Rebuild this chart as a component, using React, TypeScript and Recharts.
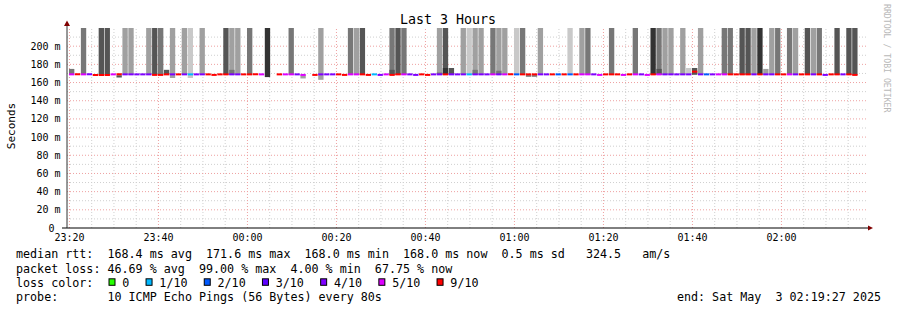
import {
  Bar,
  Cell,
  ComposedChart,
  ReferenceDot,
  ReferenceLine,
  XAxis,
  YAxis,
} from "recharts";

const MONO = "'DejaVu Sans Mono', monospace";

// time axis: seconds after 23:00 on May 2
const T_START = 1167; // 23:19:27
const T_END = 11967; // 02:19:27
const FIRST_STEP = 1234; // centre of the first 80s step
const STEP = 80;

const xTicks = [1200, 2400, 3600, 4800, 6000, 7200, 8400, 9600, 10800];
const xMinorTicks = [
  1500, 1800, 2100, 2700, 3000, 3300, 3900, 4200, 4500, 5100, 5400, 5700,
  6300, 6600, 6900, 7500, 7800, 8100, 8700, 9000, 9300, 9900, 10200, 10500,
  11100, 11400, 11700,
];
const yTicks = [0, 20, 40, 60, 80, 100, 120, 140, 160, 180, 200];
const yMinorTicks = [10, 30, 50, 70, 90, 110, 130, 150, 170, 190, 210];

// median rtt per step (ms), null = no answer
const median = [
  168.6, 168.6, 168.6, 168.6, 168.0, 168.0, 168.0, 168.6, 168.6, 168.6,
  168.6, 168.6, 168.6, 168.6, 168.0, 168.0, 168.6, 168.6, 168.6, 168.6,
  168.6, 168.6, 168.6, 168.6, 168.0, 168.6, 168.6, 168.6, 168.6, 168.6,
  168.6, 168.6, 168.6, null, null, 168.6, 168.6, 168.6, 168.6, 168.0,
  null, 168.0, 168.6, 168.6, 168.6, 168.6, 168.0, 168.6, 168.6, 168.6,
  168.0, 168.6, 168.0, 168.6, 168.0, 168.6, 168.6, 168.6, 168.0, 168.6,
  168.0, 168.6, 168.6, 168.6, 168.6, 168.6, 168.6, 168.6, 168.6, 168.6,
  168.6, 168.6, 168.6, 168.6, 168.6, 168.6, 168.6, 168.6, 168.6, 168.6,
  168.6, 168.6, 168.6, 168.6, 168.6, 168.6, 168.6, 168.6, 168.6, 168.0,
  168.6, 168.6, 168.6, 168.0, 168.6, 168.6, 168.6, 168.0, 168.6, 168.6,
  168.6, 168.6, 168.6, 168.6, 168.6, 171.6, 168.6, 168.6, 168.6, 168.6,
  168.6, 168.6, 168.6, 168.6, 168.6, 168.6, 168.6, 168.6, 168.6, 168.6,
  168.6, 168.6, 168.6, 168.6, 168.6, 168.6, 168.6, 168.0, 168.6, 168.6,
  168.6, 168.6, 168.0,
];

// lost pings out of 10 per step
const loss = [
  5, 7, 5, 4, 7, 7, 7, 5, 7, 4,
  4, 4, 4, 4, 7, 7, 7, 4, 7, 4,
  1, 4, 4, 7, 7, 7, 7, 4, 4, 7,
  7, 7, 5, 10, 10, 7, 5, 5, 4, 5,
  10, 7, 4, 4, 4, 7, 7, 5, 5, 7,
  7, 1, 4, 5, 7, 7, 5, 4, 4, 7,
  7, 4, 4, 7, 4, 4, 4, 1, 4, 4,
  4, 5, 4, 5, 7, 2, 7, 7, 7, 4,
  4, 7, 2, 7, 2, 7, 5, 5, 4, 5,
  7, 7, 7, 5, 7, 5, 4, 5, 7, 5,
  4, 4, 4, 4, 4, 7, 4, 2, 4, 5,
  5, 7, 7, 7, 7, 4, 7, 4, 4, 7,
  7, 5, 4, 7, 7, 4, 7, 4, 7, 7,
  4, 7, 7,
];

// smoke band per step (ms), null = none
const smokeHi = [
  175, null, 220, null, null, 220, 220, null, 168, 220,
  220, null, null, 220, 220, 220, 174, 220, null, 220,
  220, null, 220, null, null, null, 220, 220, 220, null,
  220, null, null, 220, null, null, null, 220, null, 168,
  null, null, 220, null, null, null, null, 220, 220, 220,
  null, null, null, null, 220, 220, 220, null, null, null,
  null, null, 220, 220, 176, null, 220, 220, 220, 220,
  null, 220, 220, 220, null, 220, 220, 168, 168, 220,
  null, null, null, null, 220, null, 220, 220, null, null,
  null, 220, null, null, null, 220, null, null, 220, 220,
  220, 220, null, 220, 176, 176, 220, null, null, null,
  220, 220, null, 220, 220, 220, 220, 175, 220, 220,
  null, 220, 220, null, 220, 220, 220, null, null, 220,
  null, 220, 220,
];
const smokeLo = [
  168.5, null, 168.5, null, null, 168.5, 168.5, null, 165.5, 168.5,
  168.5, null, null, 168.5, 168.5, 168.5, 168.5, 165, null, 168.5,
  165, null, 168.5, null, null, null, 168.5, 168.5, 168.5, null,
  168.5, null, null, 166, null, null, null, 168.5, null, 164.5,
  null, null, 163, null, null, null, null, 168.5, 168.5, 168.5,
  null, null, null, null, 168.5, 168.5, 168.5, null, null, null,
  null, null, 168.5, 168.5, 168.5, null, 168.5, 168.5, 168.5, 168.5,
  null, 168.5, 168.5, 168.5, null, 168.5, 168.5, 166.5, 166.5, 168.5,
  null, null, null, null, 168.5, null, 168.5, 168.5, null, null,
  null, 168.5, null, null, null, 168.5, null, null, 168.5, 168.5,
  168.5, 168.5, null, 168.5, 168.5, 168.5, 168.5, null, null, null,
  168.5, 168.5, null, 168.5, 168.5, 168.5, 168.5, 168.5, 168.5, 168.5,
  null, 168.5, 168.5, null, 168.5, 168.5, 168.5, null, null, 168.5,
  null, 168.5, 168.5,
];
// k darkest, d dark, m mid, l light, x lightest
const smokeShade = (
  "m.m..dd.dl" + "l..ldmdl.l" + "x.l...dll." + "m..k...m.l" +
  "..l....mld" + "....mdm..." + "..ldd.lxll" + ".mll.xmddl" +
  "....x.lm.." + ".m...m..km" + "ll.lxdl..." + "mm.ddlkllm" +
  ".ml.dlm..d" + ".dd"
).split("");

// short denser smoke just above the median
const bumpSteps = [27, 54, 62, 63, 68, 72, 99];
const bumpTops = [174, 174, 171, 176, 174, 173, 175];
const bumpShades = ["m", "d", "m", "k", "m", "m", "d"];

const shadeColor: Record<string, string> = {
  k: "#333333",
  d: "#555555",
  m: "#777777",
  l: "#a0a0a0",
  x: "#c9c9c9",
};

const lossLegend = [
  { label: "0", color: "#26ff00" },
  { label: "1/10", color: "#00b8ff" },
  { label: "2/10", color: "#0059ff" },
  { label: "3/10", color: "#5e00ff" },
  { label: "4/10", color: "#7e00ff" },
  { label: "5/10", color: "#dd00ff" },
  { label: "9/10", color: "#ff0000" },
];

function lossColor(n: number) {
  if (n >= 6) return "#ff0000";
  return lossLegend[n].color;
}

const rows = median.map((m, i) => {
  const b = bumpSteps.indexOf(i);
  return {
    t: FIRST_STEP + i * STEP,
    smoke: smokeHi[i] == null ? null : [smokeLo[i], smokeHi[i]],
    shade: smokeShade[i],
    bump: b < 0 ? null : [168.5, bumpTops[b]],
    bumpShade: b < 0 ? "." : bumpShades[b],
    med: m == null ? null : [m - 0.7, m + 1.5],
    loss: loss[i],
  };
});

function fmtTime(t: number) {
  const m = (23 * 60 + Math.round(t / 60)) % 1440;
  const hh = String(Math.floor(m / 60)).padStart(2, "0");
  const mm = String(m % 60).padStart(2, "0");
  return `${hh}:${mm}`;
}

const pre = (s: string) => s.replace(/ /g, "\u00a0");

function UpArrow(props: any) {
  const { cx, cy } = props;
  return (
    <g>
      <line x1={cx} y1={cy} x2={cx} y2={cy - 3} stroke="#333" />
      <polygon points={`${cx - 3},${cy - 2} ${cx + 3},${cy - 2} ${cx},${cy - 7.5}`} fill="#800000" />
    </g>
  );
}

function RightArrow(props: any) {
  const { cx, cy } = props;
  return (
    <g>
      <polygon points={`${cx},${cy - 2.5} ${cx},${cy + 2.5} ${cx + 5},${cy}`} fill="#800000" />
    </g>
  );
}

function LeftStub(props: any) {
  const { cx, cy } = props;
  return <line x1={cx - 5} y1={cy} x2={cx} y2={cy} stroke="#000" />;
}

export default function App() {
  const textStyle = { fontFamily: MONO, fontSize: 11.7, fill: "#000" };
  let lx = 108.5;
  const legendItems = lossLegend.map((it) => {
    const x = lx;
    lx += 30 + 7.05 * it.label.length;
    return { ...it, x };
  });

  return (
    <div style={{ position: "absolute", left: 0, top: 0, width: 897, height: 310, background: "#fff" }}>
      <ComposedChart
        width={897}
        height={250}
        data={rows}
        margin={{ top: 28, right: 29, bottom: 0, left: 0 }}
      >
        <XAxis
          xAxisId="time"
          type="number"
          dataKey="t"
          domain={[T_START, T_END]}
          allowDataOverflow
          ticks={xTicks}
          tickFormatter={fmtTime}
          height={22}
          tickSize={0}
          tickMargin={6}
          axisLine={{ stroke: "#000" }}
          tick={{ fontFamily: MONO, fontSize: 10, fill: "#000" }}
        />
        <XAxis
          xAxisId="bump"
          orientation="top"
          height={0}
          type="number"
          dataKey="t"
          domain={[T_START, T_END]}
          allowDataOverflow
          hide
        />
        <XAxis
          xAxisId="med"
          orientation="top"
          height={0}
          type="number"
          dataKey="t"
          domain={[T_START, T_END]}
          allowDataOverflow
          hide
        />
        <YAxis
          type="number"
          domain={[0, 220]}
          allowDataOverflow
          ticks={yTicks}
          tickFormatter={(v: number) => (v === 0 ? "0\u00a0" : `${v} m`)}
          width={67}
          tickSize={0}
          tickMargin={6.5}
          axisLine={{ stroke: "#333" }}
          tick={{ fontFamily: MONO, fontSize: 10, fill: "#000" }}
        />

        {yMinorTicks.map((v) => (
          <ReferenceLine key={`ym${v}`} xAxisId="time" y={v} stroke="#cfcfcf" strokeDasharray="1 2" zIndex={-50} />
        ))}
        {xMinorTicks.map((v) => (
          <ReferenceLine key={`xm${v}`} xAxisId="time" x={v} stroke="#cfcfcf" strokeDasharray="1 2" zIndex={-50} />
        ))}
        {yTicks.slice(1).map((v) => (
          <ReferenceLine key={`yM${v}`} xAxisId="time" y={v} stroke="#eea0a0" strokeDasharray="1 2" zIndex={-40} />
        ))}
        {xTicks.map((v) => (
          <ReferenceLine key={`xM${v}`} xAxisId="time" x={v} stroke="#eea0a0" strokeDasharray="1 2" zIndex={-40} />
        ))}

        <Bar xAxisId="time" dataKey="smoke" barSize={6} isAnimationActive={false}>
          {rows.map((r, i) => (
            <Cell key={i} fill={shadeColor[r.shade] ?? "none"} />
          ))}
        </Bar>
        <Bar xAxisId="bump" dataKey="bump" barSize={6} isAnimationActive={false}>
          {rows.map((r, i) => (
            <Cell key={i} fill={shadeColor[r.bumpShade] ?? "none"} />
          ))}
        </Bar>
        <Bar xAxisId="med" dataKey="med" barSize={6} isAnimationActive={false}>
          {rows.map((r, i) => (
            <Cell key={i} fill={lossColor(r.loss)} />
          ))}
        </Bar>

        <ReferenceDot xAxisId="time" x={T_START} y={220} ifOverflow="visible" shape={UpArrow} />
        <ReferenceDot xAxisId="time" x={T_END} y={0} ifOverflow="visible" shape={RightArrow} />
        <ReferenceDot xAxisId="time" x={T_START} y={0} ifOverflow="visible" shape={LeftStub} />
      </ComposedChart>

      <svg
        width={897}
        height={310}
        style={{ position: "absolute", left: 0, top: 0, pointerEvents: "none" }}
      >
        <text x={448} y={24.4} textAnchor="middle" fontFamily={MONO} fontSize={13.3} fill="#000">
          {pre("Last 3 Hours")}
        </text>
        <text
          x={15}
          y={126}
          textAnchor="middle"
          fontFamily={MONO}
          fontSize={11}
          fill="#000"
          transform="rotate(-90 15 126)"
        >
          Seconds
        </text>
        <text
          x={884}
          y={4}
          fontFamily={MONO}
          fontSize={8.2}
          fill="#b8b8b8"
          transform="rotate(90 884 4)"
        >
          {pre("RRDTOOL / TOBI OETIKER")}
        </text>

        <text x={16} y={258.3} {...textStyle}>
          {pre("median rtt:  168.4 ms avg  171.6 ms max  168.0 ms min  168.0 ms now  0.5 ms sd   324.5   am/s")}
        </text>
        <text x={16} y={272.5} {...textStyle}>
          {pre("packet loss: 46.69 % avg  99.00 % max  4.00 % min  67.75 % now")}
        </text>
        <text x={16} y={286.7} {...textStyle}>
          {pre("loss color:")}
        </text>
        {legendItems.map((it) => (
          <g key={it.label}>
            <rect x={it.x + 0.5} y={278.8} width={6} height={6.5} fill={it.color} stroke="#000" strokeWidth={1} />
            <text x={it.x + 13.8} y={286.7} {...textStyle}>
              {it.label}
            </text>
          </g>
        ))}
        <text x={16} y={300.8} {...textStyle}>
          {pre("probe:       10 ICMP Echo Pings (56 Bytes) every 80s")}
        </text>
        <text x={881} y={300.8} textAnchor="end" {...textStyle}>
          {pre("end: Sat May  3 02:19:27 2025")}
        </text>
      </svg>
    </div>
  );
}
